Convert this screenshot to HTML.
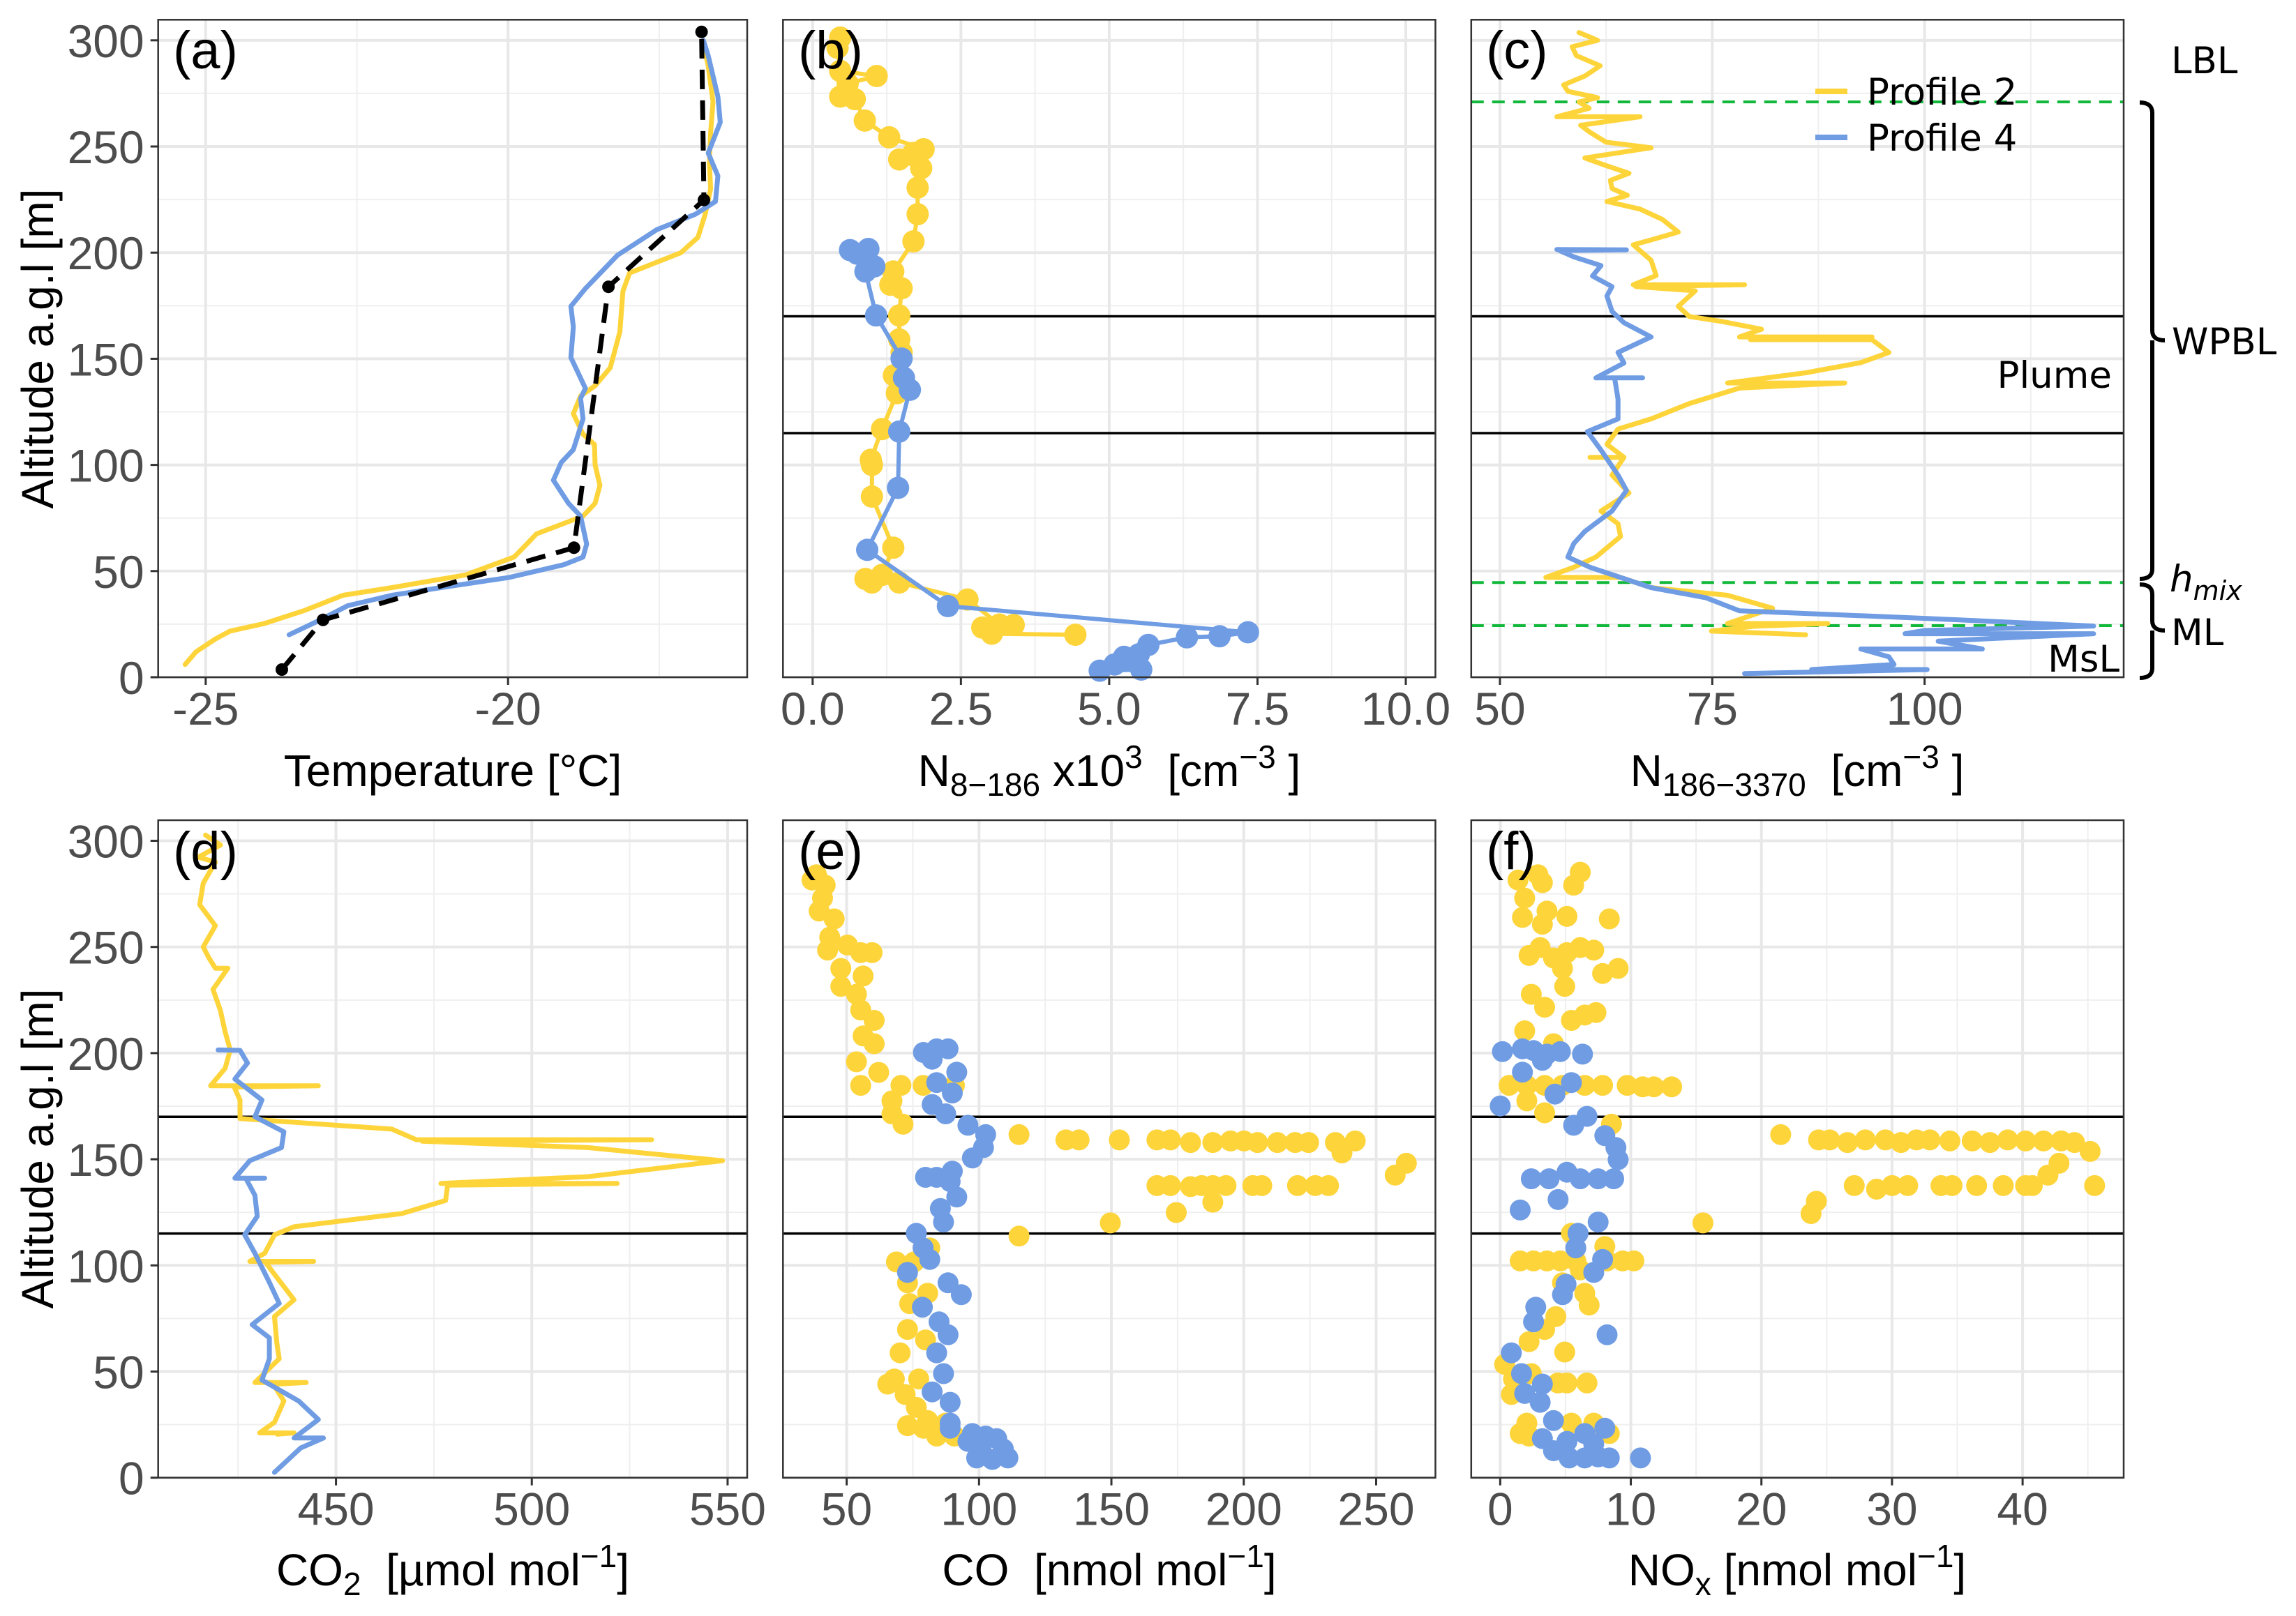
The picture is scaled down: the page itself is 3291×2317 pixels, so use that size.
<!DOCTYPE html>
<html><head><meta charset="utf-8"><title>Vertical profiles</title>
<style>
html,body{margin:0;padding:0;background:#fff;}
svg{display:block;}
.tick{font-family:"Liberation Sans",Arial,sans-serif;font-size:66px;fill:#4d4d4d;}
.ttl{font-family:"Liberation Sans",Arial,sans-serif;font-size:64px;fill:#000;white-space:pre;}
.plab{font-family:"Liberation Sans",Arial,sans-serif;font-size:76px;fill:#000;}
.ann{font-family:"DejaVu Sans",sans-serif;font-size:53px;fill:#000;}
</style></head>
<body>
<svg id="fig" xmlns="http://www.w3.org/2000/svg" xml:space="preserve" width="3291" height="2317" viewBox="0 0 3291 2317">
<rect x="0" y="0" width="3291" height="2317" fill="#fff"/>
<g id="grids"></g>
<g id="marks"></g>
<g id="frames"></g>
<g id="labels">
<text class="ttl" x="649" y="1127" text-anchor="middle">Temperature [°C]</text>
<text class="ttl" x="1590" y="1127" text-anchor="middle">N<tspan font-size="46" dy="14">8−186</tspan><tspan dy="-14"> x10</tspan><tspan font-size="46" dy="-26">3</tspan><tspan dy="26">  [cm</tspan><tspan font-size="46" dy="-26">−3</tspan><tspan dy="26"> ]</tspan></text>
<text class="ttl" x="2576" y="1127" text-anchor="middle">N<tspan font-size="46" dy="14">186−3370</tspan><tspan dy="-14">  [cm</tspan><tspan font-size="46" dy="-26">−3</tspan><tspan dy="26"> ]</tspan></text>
<text class="ttl" x="649" y="2273" text-anchor="middle">CO<tspan font-size="46" dy="14">2</tspan><tspan dy="-14">  [µmol mol</tspan><tspan font-size="46" dy="-26">−1</tspan><tspan dy="26">]</tspan></text>
<text class="ttl" x="1590" y="2273" text-anchor="middle">CO  [nmol mol<tspan font-size="46" dy="-26">−1</tspan><tspan dy="26">]</tspan></text>
<text class="ttl" x="2576" y="2273" text-anchor="middle">NO<tspan font-size="46" dy="14">x</tspan><tspan dy="-14"> [nmol mol</tspan><tspan font-size="46" dy="-26">−1</tspan><tspan dy="26">]</tspan></text>
<text class="ttl" transform="translate(76,500) rotate(-90)" text-anchor="middle">Altitude a.g.l [m]</text>
<text class="ttl" transform="translate(76,1647) rotate(-90)" text-anchor="middle">Altitude a.g.l [m]</text>
<text class="plab" x="248" y="98">(a)</text>
<text class="plab" x="1144" y="98">(b)</text>
<text class="plab" x="2130" y="98">(c)</text>
<text class="plab" x="248" y="1246">(d)</text>
<text class="plab" x="1144" y="1246">(e)</text>
<text class="plab" x="2130" y="1246">(f)</text>
<line x1="2602" y1="131" x2="2648" y2="131" stroke="#FED43B" stroke-width="8"/>
<line x1="2602" y1="197" x2="2648" y2="197" stroke="#6F9CE3" stroke-width="8"/>
<text class="ann" x="2676" y="150">Profile 2</text>
<text class="ann" x="2676" y="216">Profile 4</text>
<text class="ann" x="3027" y="556" text-anchor="end">Plume</text>
<text class="ann" x="3038" y="963" text-anchor="end">MsL</text>
<text class="ann" x="3112" y="105">LBL</text>
<text class="ann" x="3113" y="508">WPBL</text>
<text class="ann" x="3110" y="848" font-style="italic">h<tspan font-size="38" dy="12">mix</tspan></text>
<text class="ann" x="3112" y="925">ML</text>
<path d="M3067 147 Q3085 147 3085 162 L3085 474 Q3085 488 3103 488 M3085 488 Q3085 502 3085 516 L3085 816 Q3085 830 3067 830" fill="none" stroke="#000" stroke-width="6"/>
<path d="M3067 838 Q3085 838 3085 852 L3085 890 Q3085 904 3103 904 M3085 904 Q3085 918 3085 926 L3085 958 Q3085 972 3067 972" fill="none" stroke="#000" stroke-width="6"/>
</g>
</svg>
<script>
// ---------- data ----------
const altTicks = [0,50,100,150,200,250,300];
const tempTicks = [-25,-20];
const nSmallTicks = [0,2.5,5,7.5,10];
const nSmallTickLabels = ["0.0","2.5","5.0","7.5","10.0"];
const nLargeTicks = [50,75,100];
const co2Ticks = [450,500,550];
const coTicks = [50,100,150,200,250];
const noxTicks = [0,10,20,30,40];
const plumeBounds = [170,115];
const layerHeights = [271,44.6,24.3];

// panel (a) temperature
const tempAlt2 = [6,12,18,21.7,25.3,31.3,38.6,42.2,48.2,56.6,62.7,67.5,75.9,81.9,90.4,100,109.6,114.5,124.1,132.5,137.3,145.8,162.7,181.9,190.4,200,207.2,218.1,230.1,242.2,256.6,271.1,288,297.6];
const temp2 = [-25.34,-25.16,-24.84,-24.6,-24.03,-23.38,-22.73,-21.92,-20.7,-19.9,-19.69,-19.53,-18.76,-18.56,-18.48,-18.56,-18.57,-18.76,-18.92,-18.8,-18.56,-18.31,-18.15,-18.1,-17.99,-17.14,-16.86,-16.74,-16.65,-16.67,-16.65,-16.61,-16.69,-16.76];
const tempAlt4 = [20,26.5,33.7,38.6,42.2,47,53,56.6,62.7,75.9,81.9,92.8,101.2,107.2,121.7,131.3,136.1,150.6,165,174.7,183.1,198.8,210.8,218.1,224.1,236.1,246.9,261.4,273.5,292.8,300];
const temp4 = [-23.62,-23.14,-22.65,-21.92,-21.11,-19.98,-19.08,-18.76,-18.7,-18.8,-19.0,-19.25,-19.12,-18.92,-18.76,-18.8,-18.72,-18.96,-18.92,-18.96,-18.72,-18.19,-17.54,-16.9,-16.57,-16.53,-16.69,-16.49,-16.53,-16.69,-16.77];
const radioAlt = [3.6,27,61,183.9,224.8,304];
const radioTemp = [-23.74,-23.06,-18.91,-18.34,-16.76,-16.8];

// panel (b) N8-186 x10^3
const nsAlt2 = [301.3,296.5,285.6,283.2,279.6,273.5,272.3,262.2,254.3,248.7,247,243.9,239.8,230.6,218.1,205.3,191.1,184.9,183.2,170.4,159.1,153,142.2,133.8,116.9,102.4,100,85.1,61,48.2,46.3,44.6,44.6,36.6,24.8,24.6,23.4,20.5,20];
const ns2 = [0.465,0.42,0.465,1.08,0.59,0.465,0.71,0.88,1.29,1.87,1.7,1.46,1.83,1.77,1.77,1.7,1.36,1.31,1.5,1.46,1.46,1.5,1.37,1.42,1.17,0.98,1.0,1.0,1.36,1.17,0.89,1.0,1.46,2.61,3.15,3.39,2.86,3.02,4.43];
const nsAlt4 = [201.7,201.2,199.5,193.5,191.1,170.4,150.1,141,135.4,115.7,89.2,60,33.5,21.2,19.3,18.8,15.2,10.8,9.6,6,3.6,3.1];
const ns4 = [0.94,0.63,0.75,1.04,0.89,1.07,1.5,1.54,1.64,1.46,1.44,0.92,2.28,7.34,6.86,6.31,5.66,5.5,5.25,5.09,5.54,4.84];

// panel (c) N186-3370
const nlAlt2 = [303.7,300,297,292.8,288,283.2,279,276,273,271,268,264,264,260,256.7,252,249.4,247,244.6,241,237.4,234,230.2,227,224.1,220.5,215.7,209.7,206,203.7,196.4,189.2,184.9,184.9,184,182,174.7,169.9,167.5,163.9,160.3,160.3,159,159,153,148.2,143.4,138.6,138.6,136.2,128.9,121.7,116.9,109.7,103.6,103.6,103.6,95.2,86.8,78.3,72.3,66.3,56.6,51.8,47,47,42.2,38.6,32.5,25.3,25.3,24,21.7,20];
const nl2 = [59.3,61.5,58.5,59.0,61.8,60.0,57.5,58.0,61.5,59.3,60.5,56.7,66.5,59.5,60.6,62.5,67.8,63.9,60.0,62.5,65.2,63.0,63.2,65.0,62.6,66.5,69.1,71.0,67.8,65.7,67.8,68.4,65.7,78.8,66.0,73.0,71.0,72.3,76.2,80.8,78.2,93.8,79.5,93.8,95.8,92.5,86.0,76.8,90.6,78.2,72.3,67.8,63.9,62.6,64.6,60.6,64.6,63.2,65.2,61.9,63.9,64.2,61.3,58.7,55.4,64.2,67.8,76.8,82.1,76.8,88.6,80.0,74.9,86.0];
const nlAlt4 = [201.5,201.3,201,198,193.9,189,184,179.6,172.3,167,160.3,153,148,141,141,141,131,121.7,115.7,107,95.2,88,78.3,68.7,63,56.6,51.8,42.2,37.4,31.3,27.7,24.1,22,20.5,20.5,17,13.3,13.3,9.6,6,3.6,3.6,1.7];
const nl4 = [56.7,64.9,57.0,58.7,61.9,60.9,63.2,62.6,63.2,64.6,67.8,63.9,64.6,61.3,66.8,63.5,63.9,63.9,60.3,61.9,63.9,64.9,63.2,60.0,58.7,58.0,60.6,67.8,74.3,78.2,100.3,119.9,100.0,97.7,119.9,101.6,106.8,92.5,95.8,96.4,86.7,100.3,78.8];

// panel (d) CO2
const co2Alt2 = [302.7,298,292.3,290,280,269.9,260,250,245,240,240,230,220,210,201.5,192.8,184.6,184.6,184,177.9,169.2,164.2,159.2,159.2,158.5,155.5,149.3,141.8,138.6,138.6,137.8,130.6,124.4,118.2,114.4,105.7,101.9,101.9,101.5,95.8,83.8,75.9,63.4,56,44.8,44.8,44,36.1,26.1,21.1,21.1,20.5];
const co2v2 = [416.7,420.5,414.9,419.2,416.1,415.2,419.2,416.1,417.5,419.2,422.4,418.6,420.5,421.7,423.0,421.7,418.0,445.5,424.0,425.5,425.5,464.3,470.5,530.6,472.0,514.3,548.7,514.3,476.8,521.8,478.5,478.0,466.8,439.3,434.3,431.8,428.0,444.3,432.0,434.3,439.3,434.3,434.9,435.5,429.3,442.4,434.0,436.7,434.3,430.5,439.3,435.0];
const co2Alt4 = [201.5,201.3,195.3,187.8,177.9,170,162.9,155.5,149.3,141.1,141.1,141,133,123.1,114.4,105.7,92,82.1,72.1,65.9,56,46,36.1,27.4,18.7,18.7,14,9.9,2.5];
const co2v4 = [419.9,425.5,427.4,424.2,431.1,429.3,436.7,436.1,428.0,424.2,431.8,427.0,429.3,429.9,426.7,429.3,433.0,435.5,428.6,433.0,433.0,431.1,440.5,445.5,439.3,446.8,441.0,438.6,434.3];

// panel (e) CO scatter
const coAlt2 = [281.5,279.1,284,273,266.9,263.2,254.6,248.5,250.9,247.3,247.3,239.9,236.3,231.4,227.7,220.3,215.4,208.1,204.4,195.9,184.8,190.9,184.8,184.8,184.8,177.5,171.4,166.5,161.6,159.1,159.1,159.1,159.1,159.1,157.9,157.9,158.6,158.6,157.9,157.9,157.9,157.9,157.9,153,158.6,148.1,142.5,137.6,137.6,137.1,137.6,137.6,137.6,137.6,137.6,137.6,137.6,137.6,129.8,124.9,120,113.8,101.6,101.6,108.2,91.8,86.9,82,69.8,64.9,58.8,46.5,44.1,46.5,39.2,33.1,26.9,24.5,19.6,19.6,23.3,25.7];
const co2e = [36.9,41.9,38.6,40.9,39.6,45.3,43.6,42.8,50.3,55.3,59.6,47.8,56.2,47.8,53.7,55.3,60.4,56.2,60.4,53.7,55.3,62.1,70.5,78.9,90.7,67.1,67.1,71.3,115.1,132.8,137.8,153,167.2,172.3,179.9,188.3,195,200.1,205.2,212.7,219.4,224.5,234.6,237.1,242.1,261.4,257.2,167.2,172.3,179.9,184.1,188.3,193.3,203.4,206.8,220.3,227,232,188.3,174.5,149.6,115.1,68.8,75.5,81.4,73,80.6,73.8,73,79.8,70.2,68,65.5,77.2,72.1,76.3,80.6,73,84,90.7,79,87.4];
const coAlt4 = [200.3,202,202,197.1,191,186.1,181.2,175.8,171.4,166,161.6,155.5,150.6,144.4,141.5,141.5,139.5,132.2,126.8,120.4,115.1,108.2,102.8,96.7,91.8,86.2,80.3,73.4,67.3,58.8,49,40.4,35.5,25.7,23.3,20.8,19.6,18.4,14.7,13.5,9.3,8.6,9.3,17.1];
const co4 = [79,84,88.3,82.3,91.6,84,89.9,82.3,87.4,95.8,102.5,101.7,97.5,89.9,79.8,84,89.1,91.6,85.4,86.6,76.3,78.9,81.4,73,88.3,93.3,78.6,84.9,88.3,84,86.6,82.3,89.1,89.1,89.1,97.5,102.5,106.7,100.8,109.2,99.1,105,110.9,95.8];

// panel (f) NOx scatter
const noxAlt2 = [281.5,284,280.3,273,285.2,279.1,263.9,266.9,260.7,264.4,263.2,246,249.7,244.8,247.3,249.7,248.5,239.9,237.5,239.9,231.4,227.7,221.6,215.4,217.9,219.1,210.5,204.4,184.8,184.8,184.8,184.8,184.8,184.8,184.8,184.1,184.1,184.1,177.5,171.9,166.5,161.6,159.1,159.1,157.9,159.1,159.1,157.9,159.1,159.1,158.6,158.6,157.9,159.1,158.6,158.6,158.6,157.9,153.7,148.1,142.5,137.6,135.9,137.6,137.6,137.6,137.6,137.6,137.6,137.6,137.6,137.6,130.2,124.4,120,102.1,102.1,102.1,102.1,102.1,102.1,102.1,102.1,108.9,115.1,97.9,91.8,86.9,81.3,75.9,69.8,64.1,59.2,53.4,46.5,39.2,49,44.6,44.6,44.6,20.8,19.6,25.7,25.7,25.7,20.8];
const nox2 = [1.36,2.89,3.23,1.87,6.13,5.62,1.7,3.58,3.23,5.11,8.35,2.21,3.06,4.08,5.11,6.13,7.16,4.77,7.84,9.03,4.94,2.38,3.4,5.45,6.47,7.33,1.87,4.08,0.68,2.04,3.4,4.77,6.47,7.84,9.72,10.91,11.76,13.13,2.04,3.4,8.52,21.48,24.38,25.23,26.59,27.96,29.49,30.69,31.88,32.9,34.43,36.14,37.5,38.86,40.23,41.6,42.96,43.98,45.17,42.79,41.94,27.11,28.82,30.01,31.2,33.75,34.6,36.48,38.52,40.23,40.74,45.51,24.21,23.8,15.52,1.53,2.55,3.58,4.6,5.79,8.18,9.37,10.23,8.01,5.45,6.13,4.77,6.47,6.81,4.26,3.4,2.21,4.94,0.34,1.02,0.85,2.38,4.43,5.11,6.64,1.53,2.21,2.04,5.45,7.16,8.35];
const noxAlt4 = [200.7,202,201.2,199.5,200.7,199.5,196.6,191,186.1,180.7,175.1,170.2,166,161.1,155.5,149.8,140.8,140.8,143.9,140.8,140.8,140.8,131,126.1,120.4,115.1,108.2,102.8,96.7,91.1,86.2,80.3,73.4,67.3,58.8,49,44.1,39.7,35.5,26.9,18.4,12.7,9.3,9.3,9.8,9.3,17.1,20.8,23.3,15.9,9.3];
const nox4 = [0.17,1.7,2.55,3.58,4.6,6.3,3.23,1.7,5.45,4.19,0,6.64,5.62,8.01,8.86,9.03,2.38,3.74,5.11,6.13,7.5,8.69,4.43,1.53,7.5,5.96,5.79,7.84,7.16,5.04,4.77,2.72,2.55,8.18,0.85,1.63,3.23,1.87,3.06,4.08,3.23,4.08,5.28,6.47,7.5,8.35,5.11,6.47,8.01,7.16,10.74];

// ---------- drawing ----------
const NS = "http://www.w3.org/2000/svg";
const Y2 = "#FED43B", B4 = "#6F9CE3";
const ALT = [0, 309.7];
function mk(tag, attrs, parent){
  const el = document.createElementNS(NS, tag);
  for (const k in attrs) el.setAttribute(k, attrs[k]);
  parent.appendChild(el);
  return el;
}
function panel(x0,x1,y0,y1,dom){
  return {x0,x1,y0,y1,
    sx: v => x0 + (v-dom[0])/(dom[1]-dom[0])*(x1-x0),
    sy: a => y1 - (a-ALT[0])/(ALT[1]-ALT[0])*(y1-y0)};
}
const PA = panel(226.7,1071,28.3,971,[-25.786,-16.045]);
const PB = panel(1122.3,2057.5,28.3,971,[-0.5,10.5]);
const PC = panel(2108.8,3044,28.3,971,[46.62,123.44]);
const PD = panel(226.7,1071,1176,2118.7,[404.6,555]);
const PE = panel(1122.3,2057.5,1176,2118.7,[25.95,272.4]);
const PF = panel(2108.8,3044,1176,2118.7,[-2.22,47.74]);

const G = document.getElementById('grids');
const M = document.getElementById('marks');
const F = document.getElementById('frames');

function grid(p, majors, labels, minors, name, showY){
  const g = mk('g', {}, G);
  
  
  const minAlt = [25,75,125,175,225,275];
  minAlt.forEach(a => mk('line',{x1:p.x0,x2:p.x1,y1:p.sy(a),y2:p.sy(a),stroke:'#efefef','stroke-width':2},g));
  minors.forEach(v => { const x=p.sx(v); if(x>p.x0&&x<p.x1) mk('line',{x1:x,x2:x,y1:p.y0,y2:p.y1,stroke:'#efefef','stroke-width':2},g); });
  altTicks.forEach(a => mk('line',{x1:p.x0,x2:p.x1,y1:p.sy(a),y2:p.sy(a),stroke:'#e8e8e8','stroke-width':4},g));
  majors.forEach(v => mk('line',{x1:p.sx(v),x2:p.sx(v),y1:p.y0,y2:p.y1,stroke:'#e8e8e8','stroke-width':4},g));
  majors.forEach((v,i) => {
    const x = p.sx(v);
    const t = mk('line',{x1:x,x2:x,y1:p.y1,y2:p.y1+11,stroke:'#333','stroke-width':3},F);
    
    
    const tx = mk('text',{x:x,y:p.y1+68,'text-anchor':'middle','class':'tick'},F);
    tx.textContent = labels[i];
    
    
  });
  if (showY){
    altTicks.forEach(a => {
      const y = p.sy(a);
      mk('line',{x1:p.x0-11,x2:p.x0,y1:y,y2:y,stroke:'#333','stroke-width':3},F);
      const tx = mk('text',{x:p.x0-20,y:y+24,'text-anchor':'end','class':'tick'},F);
      tx.textContent = String(a);
      
      
    });
  }
  const fr = mk('rect',{x:p.x0,y:p.y0,width:p.x1-p.x0,height:p.y1-p.y0,fill:'none',stroke:'#333','stroke-width':2.5},F);
  
  
}
grid(PA, tempTicks, tempTicks.map(String), [-22.5,-17.5], 'temperature', true);
grid(PB, nSmallTicks, nSmallTickLabels, [1.25,3.75,6.25,8.75], 'n8-186', false);
grid(PC, nLargeTicks, nLargeTicks.map(String), [62.5,87.5,112.5], 'n186-3370', false);
grid(PD, co2Ticks, co2Ticks.map(String), [425,475,525], 'co2', true);
grid(PE, coTicks, coTicks.map(String), [75,125,175,225], 'co', false);
grid(PF, noxTicks, noxTicks.map(String), [5,15,25,35,45], 'nox', false);

function line(p, vals, alts, color, w, name, dash){
  const pts = vals.map((v,i) => p.sx(v).toFixed(1)+','+p.sy(alts[i]).toFixed(1)).join(' ');
  const a = {points:pts,fill:'none',stroke:color,'stroke-width':w,'stroke-linejoin':'round','stroke-linecap':'round'};
  if (dash) { a['stroke-dasharray'] = dash; a['stroke-linecap'] = 'butt'; }
  const el = mk('polyline', a, M);
  
  
}
function dots(p, vals, alts, color, r, name){
  const g = mk('g', {}, M);
  
  
  vals.forEach((v,i) => {
    const c = mk('circle',{cx:p.sx(v).toFixed(1),cy:p.sy(alts[i]).toFixed(1),r:r,fill:color},g);
    
    
  });
}
function hlines(p, name){
  plumeBounds.forEach(a => {
    const l = mk('line',{x1:p.x0,x2:p.x1,y1:p.sy(a),y2:p.sy(a),stroke:'#000','stroke-width':3.5},M);
    
    
  });
}

// (a)
line(PA, temp2, tempAlt2, Y2, 7, 'temperature-profile-2');
line(PA, temp4, tempAlt4, B4, 7, 'temperature-profile-4');
line(PA, radioTemp, radioAlt, '#000', 7, 'temperature-radiosonde', '28 16');
dots(PA, radioTemp, radioAlt, '#000', 9, 'temperature-radiosonde');
// (b)
hlines(PB, 'n8-186');
line(PB, ns2, nsAlt2, Y2, 6, 'n8-186-profile-2-line');
dots(PB, ns2, nsAlt2, Y2, 16, 'n8-186-profile-2');
line(PB, ns4, nsAlt4, B4, 6, 'n8-186-profile-4-line');
dots(PB, ns4, nsAlt4, B4, 16, 'n8-186-profile-4');
// (c)
hlines(PC, 'n186-3370');
layerHeights.forEach(a => {
  const l = mk('line',{x1:PC.x0,x2:PC.x1,y1:PC.sy(a),y2:PC.sy(a),stroke:'#12B83A','stroke-width':4,'stroke-dasharray':'18 12'},M);
  
  
});
line(PC, nl2, nlAlt2, Y2, 7, 'n186-3370-profile-2');
line(PC, nl4, nlAlt4, B4, 7, 'n186-3370-profile-4');
// (d)
hlines(PD, 'co2');
line(PD, co2v2, co2Alt2, Y2, 7, 'co2-profile-2');
line(PD, co2v4, co2Alt4, B4, 7, 'co2-profile-4');
// (e)
hlines(PE, 'co');
dots(PE, co2e, coAlt2, Y2, 15, 'co-profile-2');
dots(PE, co4, coAlt4, B4, 15, 'co-profile-4');
// (f)
hlines(PF, 'nox');
dots(PF, nox2, noxAlt2, Y2, 15, 'nox-profile-2');
dots(PF, nox4, noxAlt4, B4, 15, 'nox-profile-4');
</script>
</body></html>
